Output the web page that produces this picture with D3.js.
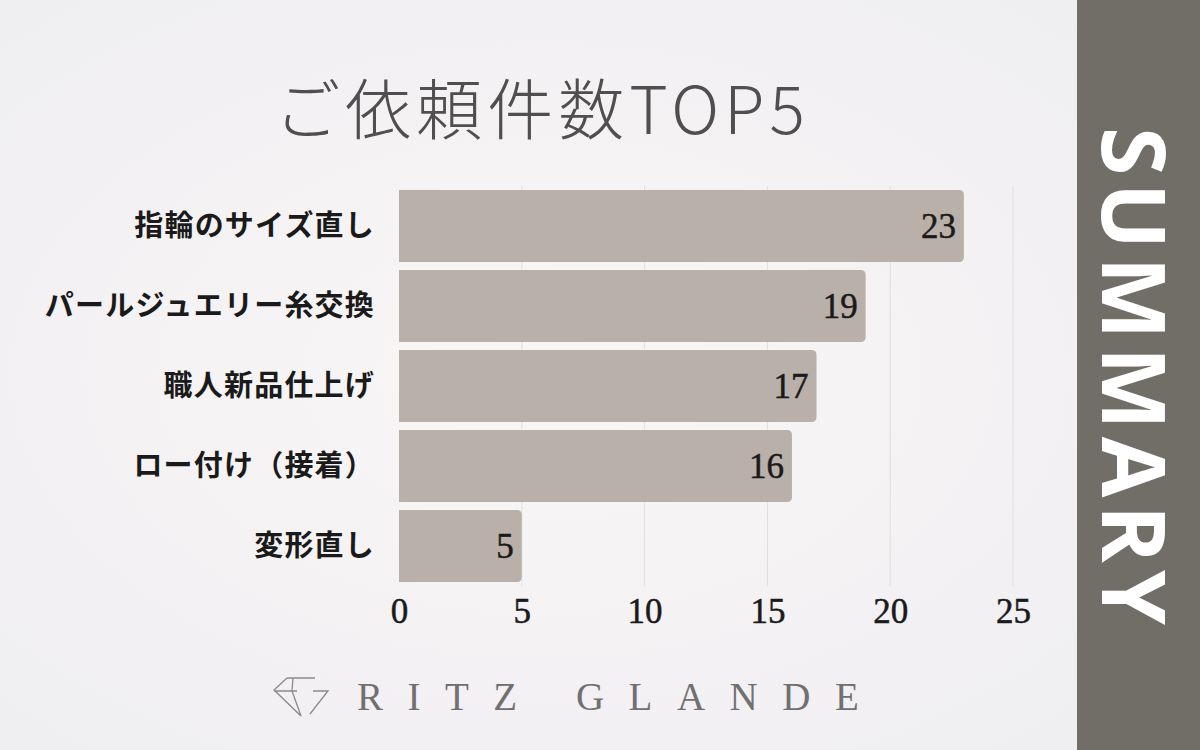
<!DOCTYPE html>
<html><head><meta charset="utf-8">
<script src="https://cdn.jsdelivr.net/npm/d3@7"></script>
<style>
html,body{margin:0;padding:0;background:#f3f2f4;}
svg{display:block;}
</style></head>
<body>
<svg id="chart" width="1200" height="750"></svg>
<script>
const title = "ご依頼件数TOP5";
const categories = ["指輪のサイズ直し","パールジュエリー糸交換","職人新品仕上げ","ロー付け（接着）","変形直し"];
const values = [23, 19, 17, 16, 5];
const tickValues = [0, 5, 10, 15, 20, 25];
const sideLabel = "SUMMARY";
const brand = "RITZ GLANDE";

const svg = d3.select("#chart");
const defs = svg.append("defs");
const rg = defs.append("radialGradient").attr("id","bg").attr("cx","45%").attr("cy","50%").attr("r","65%");
rg.append("stop").attr("offset","0%").attr("stop-color","#faf6f6");
rg.append("stop").attr("offset","100%").attr("stop-color","#efeef1");
svg.append("rect").attr("width",1200).attr("height",750).attr("fill","url(#bg)");

// side panel
svg.append("rect").attr("x",1077).attr("y",0).attr("width",123).attr("height",750).attr("fill","#716d67");
svg.append("text").attr("transform","translate(1102,376) rotate(90)")
  .attr("text-anchor","middle")
  .attr("font-family","'Open Sans', sans-serif").attr("font-weight",700)
  .attr("font-size",88).attr("fill","#ffffff")
  .attr("textLength",498).attr("lengthAdjust","spacing")
  .text(sideLabel);

// title
svg.append("text").attr("x",542).attr("y",134).attr("text-anchor","middle")
  .attr("font-family","'Noto Sans CJK JP', sans-serif").attr("font-weight",300)
  .attr("font-size",66).attr("letter-spacing",5).attr("fill","#4f4f4f").text(title);

const x = d3.scaleLinear().domain([0,25]).range([399,1013]);
const y = d3.scaleBand().domain(categories).range([186,586]).paddingInner(0.1).paddingOuter(0.05);

// grid
svg.append("g").selectAll("line").data(tickValues.filter(d=>d>0)).join("line")
  .attr("x1",d=>x(d)).attr("x2",d=>x(d)).attr("y1",186).attr("y2",586)
  .attr("stroke","#e2dede").attr("stroke-width",1);

// bars with right rounded corners
const r = 5;
svg.append("g").selectAll("path").data(values).join("path")
  .attr("fill","#b9b1a9")
  .attr("d",(d,i)=>{
    const x0 = x(0), x1 = x(d), y0 = y(categories[i]), h = y.bandwidth();
    return `M${x0},${y0}H${x1-r}Q${x1},${y0} ${x1},${y0+r}V${y0+h-r}Q${x1},${y0+h} ${x1-r},${y0+h}H${x0}Z`;
  });

// value labels
svg.append("g").selectAll("text").data(values).join("text")
  .attr("x",d=>x(d)-8).attr("y",(d,i)=>y(categories[i])+y.bandwidth()/2+12)
  .attr("text-anchor","end")
  .attr("font-family","'Liberation Serif', serif").attr("font-size",35).attr("fill","#1a1a1a")
  .attr("stroke","#1a1a1a").attr("stroke-width",0.5)
  .text(d=>d);

// category labels
svg.append("g").selectAll("text").data(categories).join("text")
  .attr("x",375).attr("y",d=>y(d)+y.bandwidth()/2+10)
  .attr("text-anchor","end")
  .attr("font-family","'Noto Sans CJK JP', sans-serif").attr("font-weight",700)
  .attr("font-size",29).attr("letter-spacing",1.2).attr("fill","#1a1a1a")
  .text(d=>d);

// x axis
const ax = svg.append("g").attr("transform","translate(0,586)")
  .call(d3.axisBottom(x).tickValues(tickValues).tickSize(0).tickPadding(12));
ax.select(".domain").remove();
ax.selectAll("text").attr("font-family","'Liberation Serif', serif").attr("font-size",35)
  .attr("fill","#1a1a1a").attr("stroke","#1a1a1a").attr("stroke-width",0.5);

// brand logo
const logo = svg.append("g").attr("fill","none").attr("stroke","#8a8a8a").attr("stroke-width",1.3);
logo.append("path").attr("d","M287,678 L315,678 M287,678 L274,690 L301,716 M293,678 L292,691 L301,716 M274,691 L297,691 M313,691 L328,691 L310,714");
svg.append("text").attr("x",357).attr("y",710)
  .attr("font-family","'Liberation Serif', serif").attr("font-size",39).attr("fill","#707070")
  .attr("letter-spacing",24.5)
  .text(brand);
</script>
</body></html>
